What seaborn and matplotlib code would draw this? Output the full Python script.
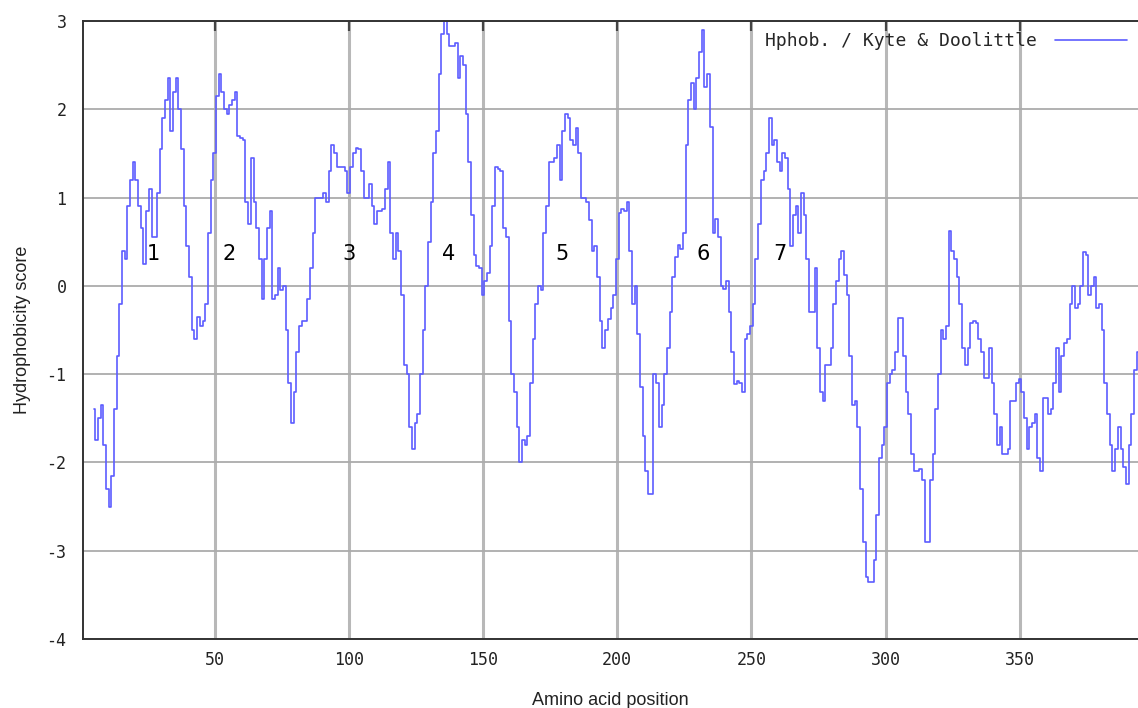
import numpy as np
import pandas as pd
import matplotlib
matplotlib.use("Agg")
import matplotlib.pyplot as plt
import seaborn as sns

# Kyte & Doolittle hydrophobicity, one value per residue (window centre), residues 5..394
first_residue = 5
scores = [
    -1.4, -1.75, -1.5, -1.35, -1.8, -2.3, -2.5, -2.15, -1.4, -0.8,
    -0.2, 0.4, 0.3, 0.9, 1.2, 1.4, 1.2, 0.9, 0.65, 0.25,
    0.85, 1.1, 0.55, 0.55, 1.05, 1.55, 1.9, 2.1, 2.35, 1.75,
    2.2, 2.35, 2.0, 1.55, 0.9, 0.45, 0.1, -0.5, -0.6, -0.35,
    -0.45, -0.4, -0.2, 0.6, 1.2, 1.5, 2.15, 2.4, 2.2, 2.0,
    1.95, 2.05, 2.1, 2.2, 1.7, 1.68, 1.65, 0.95, 0.7, 1.45,
    0.95, 0.65, 0.3, -0.15, 0.3, 0.65, 0.85, -0.15, -0.1, 0.2,
    -0.05, 0.0, -0.5, -1.1, -1.55, -1.2, -0.75, -0.45, -0.4, -0.4,
    -0.15, 0.2, 0.6, 1.0, 1.0, 1.0, 1.05, 0.95, 1.3, 1.6,
    1.5, 1.35, 1.35, 1.35, 1.3, 1.05, 1.35, 1.5, 1.56, 1.55,
    1.3, 1.0, 1.0, 1.15, 0.9, 0.7, 0.85, 0.85, 0.87, 1.1,
    1.4, 0.6, 0.3, 0.6, 0.4, -0.1, -0.9, -1.0, -1.6, -1.85,
    -1.55, -1.45, -1.0, -0.5, 0.0, 0.5, 0.95, 1.5, 1.75, 2.4,
    2.85, 3.0, 2.85, 2.72, 2.72, 2.75, 2.35, 2.6, 2.5, 1.95,
    1.4, 0.8, 0.35, 0.22, 0.2, -0.1, 0.05, 0.15, 0.45, 0.9,
    1.35, 1.32, 1.3, 0.65, 0.55, -0.4, -1.0, -1.2, -1.6, -2.0,
    -1.75, -1.8, -1.7, -1.1, -0.6, -0.2, 0.0, -0.05, 0.6, 0.9,
    1.4, 1.4, 1.45, 1.6, 1.2, 1.75, 1.95, 1.9, 1.65, 1.6,
    1.79, 1.5, 1.0, 1.0, 0.95, 0.75, 0.4, 0.45, 0.1, -0.4,
    -0.7, -0.5, -0.38, -0.25, -0.1, 0.3, 0.83, 0.87, 0.85, 0.95,
    0.4, -0.2, 0.0, -0.55, -1.15, -1.7, -2.1, -2.36, -2.36, -1.0,
    -1.1, -1.6, -1.35, -1.0, -0.7, -0.3, 0.1, 0.33, 0.46, 0.42,
    0.6, 1.6, 2.1, 2.3, 2.0, 2.35, 2.65, 2.9, 2.25, 2.4,
    1.8, 0.6, 0.76, 0.55, 0.0, -0.04, 0.05, -0.3, -0.75, -1.11,
    -1.08, -1.1, -1.2, -0.6, -0.55, -0.45, -0.2, 0.3, 0.7, 1.2,
    1.3, 1.5, 1.9, 1.6, 1.65, 1.4, 1.3, 1.5, 1.45, 1.1,
    0.45, 0.8, 0.9, 0.6, 1.05, 0.8, 0.3, -0.3, -0.3, 0.2,
    -0.7, -1.2, -1.3, -0.9, -0.9, -0.7, -0.2, 0.05, 0.3, 0.4,
    0.12, -0.1, -0.8, -1.35, -1.3, -1.6, -2.3, -2.9, -3.3, -3.36,
    -3.36, -3.1, -2.6, -1.95, -1.8, -1.6, -1.1, -1.0, -0.95, -0.75,
    -0.36, -0.36, -0.8, -1.2, -1.45, -1.9, -2.1, -2.1, -2.07, -2.2,
    -2.9, -2.9, -2.2, -1.9, -1.4, -1.0, -0.5, -0.6, -0.45, 0.62,
    0.4, 0.3, 0.1, -0.2, -0.7, -0.9, -0.7, -0.42, -0.4, -0.42,
    -0.6, -0.75, -1.04, -1.04, -0.7, -1.1, -1.45, -1.8, -1.6, -1.9,
    -1.9, -1.85, -1.3, -1.3, -1.1, -1.06, -1.2, -1.5, -1.85, -1.6,
    -1.55, -1.45, -1.95, -2.1, -1.27, -1.27, -1.45, -1.4, -1.1, -0.7,
    -1.2, -0.8, -0.65, -0.6, -0.2, 0.0, -0.25, -0.2, 0.0, 0.38,
    0.35, -0.1, 0.0, 0.1, -0.25, -0.2, -0.5, -1.1, -1.45, -1.8,
    -2.1, -1.85, -1.6, -1.85, -2.05, -2.25, -1.8, -1.45, -0.95, -0.75,
]

# transmembrane segment labels and where they sit
helix_labels = ["1", "2", "3", "4", "5", "6", "7"]
helix_pos = [27, 55.5, 100, 137, 179.5, 232, 260.5]
helix_y = 0.36

x_ticks = [50, 100, 150, 200, 250, 300, 350]
y_ticks = [-4, -3, -2, -1, 0, 1, 2, 3]

df = pd.DataFrame({
    "position": np.arange(first_residue, first_residue + len(scores)),
    "score": scores,
})

sns.set_style("white")
plt.rcParams["axes.unicode_minus"] = False

fig = plt.figure(figsize=(11.38, 7.08), dpi=100)
ax = fig.add_axes([0.073, 0.0975, 0.927, 0.8728])

sns.lineplot(data=df, x="position", y="score", ax=ax, color="#5c5cff",
             linewidth=1.2, drawstyle="steps-mid", estimator=None,
             label="Hphob. / Kyte & Doolittle")

ax.set_xlim(1, 394)
ax.set_ylim(-4, 3)
ax.set_xticks(x_ticks)
ax.set_yticks(y_ticks)

ax.set_axisbelow(True)
ax.grid(axis="x", color="#b8b8b8", linewidth=2.2)
ax.grid(axis="y", color="#ababab", linewidth=1.3)

for s in ["left", "bottom", "top"]:
    ax.spines[s].set_color("#333333")
    ax.spines[s].set_linewidth(1.4)
ax.spines["right"].set_visible(False)

ax.tick_params(direction="in", length=7, width=1.6, color="#444444",
               top=True, labelsize=12, labelcolor="#222222")
ax.tick_params(axis="x", pad=9)
ax.tick_params(axis="y", pad=12)
for lab in ax.get_xticklabels() + ax.get_yticklabels():
    lab.set_family("DejaVu Sans Mono")

ax.set_xlabel("Amino acid position", family="Liberation Sans", fontsize=13,
              labelpad=16, color="#222222")
ax.set_ylabel("Hydrophobicity score", family="Liberation Sans", fontsize=13,
              labelpad=11, color="#222222")

for lab, px in zip(helix_labels, helix_pos):
    ax.text(px, helix_y, lab, fontsize=15, ha="center", va="center",
            family="DejaVu Sans", color="black")

leg = ax.legend(loc="upper right", frameon=False, markerfirst=False,
                handlelength=4.0, handletextpad=1.0, borderpad=0,
                borderaxespad=0.6,
                prop={"family": "DejaVu Sans Mono", "size": 13})
for line in leg.get_lines():
    line.set_linewidth(1.2)

fig.savefig("out.png", dpi=100)
